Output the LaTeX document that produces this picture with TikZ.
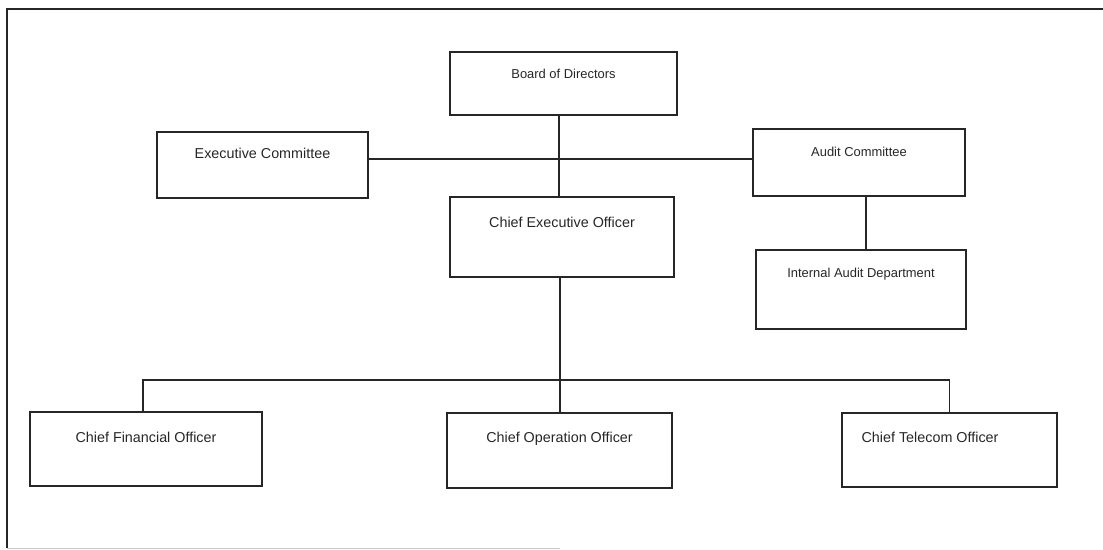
\documentclass[tikz,border=0pt]{standalone}
\usepackage{fontspec}
\setmainfont{Liberation Sans}
\tikzset{
  orgbox/.style={rectangle, draw=black!85, line width=0.8pt, inner sep=0pt, minimum width=#1, text=black!85},
  bigtext/.style={font=\fontsize{10.2}{12}\selectfont},
  smalltext/.style={font=\fontsize{9.2}{11}\selectfont},
  link/.style={draw=black!85, line width=0.8pt}
}

\begin{document}
\begin{tikzpicture}[x=0.025cm, y=-0.025cm]
\useasboundingbox (0,0) rectangle (1103,549);
% frame
\draw[link] (1103,9) -- (7,9) -- (7,548);
\draw[black!20, line width=0.6pt] (7,548) -- (560,548);

% top level
\node[orgbox=5.675cm, smalltext, text height=0.665cm, text depth=0.91cm] (board) at (563.5,83.5) {Board of Directors};
\node[orgbox=5.275cm, bigtext, text height=0.65cm, text depth=1.0cm] (exec) at (262.5,165) {Executive Committee};
\node[orgbox=5.3cm, smalltext, text height=0.69cm, text depth=0.985cm] (audit) at (859,162.5) {Audit Committee};
\node[orgbox=5.6cm, bigtext, text height=0.75cm, text depth=1.25cm] (ceo) at (562,237) {Chief Executive Officer};
\node[orgbox=5.25cm, smalltext, text height=0.69cm, text depth=1.285cm] (internal) at (861,289.5) {Internal Audit Department};

% officers
\node[orgbox=5.8cm, bigtext, text height=0.75cm, text depth=1.1cm] (cfo) at (146,449) {Chief Financial Officer};
\node[orgbox=5.625cm, bigtext, text height=0.725cm, text depth=1.15cm] (coo) at (559.5,450.5) {Chief Operation Officer};
\node[orgbox=5.375cm, bigtext, text height=0.725cm, text depth=1.125cm] (cto) at (949.5,450) {Chief Telecom Officer\hspace*{0.975cm}};

% connectors
\coordinate (hub) at (559,159);
\coordinate (bus) at (560,380);
\draw[link] (board.south -| hub) -- (ceo.north -| hub);
\draw[link] (exec.east |- hub) -- (audit.west |- hub);
\draw[link] ([xshift=0.175cm]audit.south) -- ([xshift=0.175cm]audit.south |- internal.north);
\draw[link] (ceo.south -| bus) -- (coo.north -| bus);
\draw[link] (cfo.north -| 143,0) |- (bus) -| (cto.north);
\end{tikzpicture}
\end{document}
